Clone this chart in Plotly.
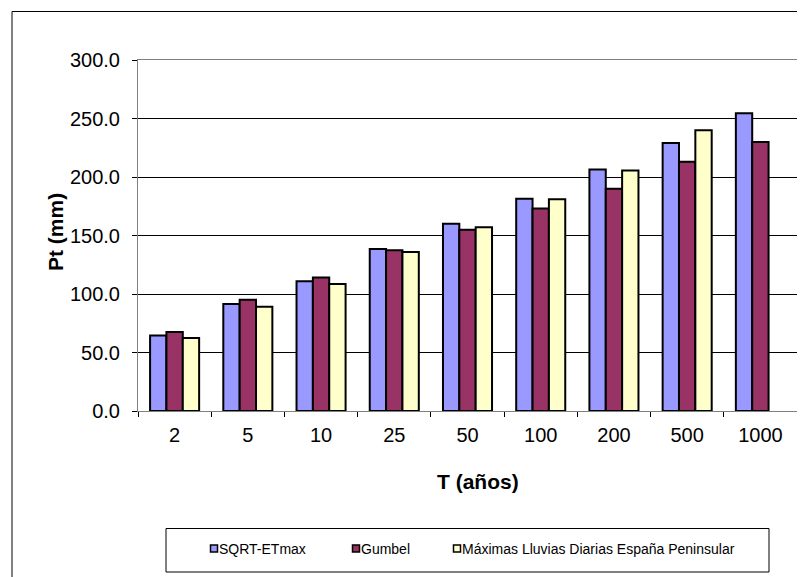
import plotly.graph_objects as go

periods = ["2", "5", "10", "25", "50", "100", "200", "500", "1000"]
sqrt_etmax = [64.5, 91.5, 111.0, 138.5, 160.0, 181.5, 206.5, 229.0, 254.5]
gumbel = [67.5, 95.0, 114.0, 137.5, 155.0, 173.0, 190.0, 213.0, 230.0]
maximas = [62.5, 89.0, 108.5, 136.0, 157.0, 181.0, 205.5, 240.0, None]

series_names = ["SQRT-ETmax", "Gumbel", "Máximas Lluvias Diarias España Peninsular"]
series_colors = ["#9999FF", "#993366", "#FFFFCC"]

FONT = "Arial, 'Liberation Sans', sans-serif"

# the page body has an 8px margin, so the figure starts at (8, 8) on screen
OFF = 8
W, H = 805 - OFF, 577 - OFF
# plot area in screen pixels
L, R, T, B = 138, 797, 60, 411
PW, PH = R - L, B - T


def px_x(x):
    return (x - L) / PW


def px_y(y):
    return (B - y) / PH


fig = go.Figure()
for name, vals, col in zip(series_names, [sqrt_etmax, gumbel, maximas], series_colors):
    fig.add_trace(go.Bar(
        x=periods, y=vals, name=name,
        marker=dict(color=col, line=dict(color="black", width=2)),
    ))

shapes = [
    # outer chart border
    dict(type="rect", xref="paper", yref="paper",
         x0=px_x(12), x1=px_x(812), y0=px_y(590), y1=px_y(11.5),
         line=dict(color="black", width=1), fillcolor="rgba(0,0,0,0)", layer="below"),
    # legend box
    dict(type="rect", xref="paper", yref="paper",
         x0=px_x(166), x1=px_x(769), y0=px_y(572), y1=px_y(528.5),
         line=dict(color="black", width=1), fillcolor="white"),
]
annotations = [
    dict(text="<b>T (años)</b>", xref="paper", yref="paper", x=px_x(477.5), y=px_y(481),
         xanchor="center", yanchor="middle",
         showarrow=False, font=dict(size=21, color="black", family=FONT)),
    dict(text="<b>Pt (mm)</b>", xref="paper", yref="paper", x=px_x(55), y=px_y(232),
         xanchor="center", yanchor="middle",
         showarrow=False, textangle=-90, font=dict(size=21, color="black", family=FONT)),
]

text_starts = [220, 362, 463]
for name, col, tx in zip(series_names, series_colors, text_starts):
    cx, cy = tx - 6, 548.5
    shapes.append(dict(type="rect", xref="paper", yref="paper",
                       x0=px_x(cx - 3.5), x1=px_x(cx + 3.5), y0=px_y(cy + 3.5), y1=px_y(cy - 3.5),
                       line=dict(color="black", width=1.5), fillcolor=col))
    annotations.append(dict(text=name, xref="paper", yref="paper", x=px_x(tx - 3), y=px_y(cy),
                            xanchor="left", yanchor="middle", showarrow=False,
                            font=dict(size=14, color="black", family=FONT)))

fig.update_layout(
    width=W, height=H,
    margin=dict(l=L - OFF, r=805 - R, t=T - OFF, b=577 - B),
    paper_bgcolor="white", plot_bgcolor="white",
    barmode="group", bargap=0.33, bargroupgap=0,
    showlegend=False,
    font=dict(family=FONT, color="black"),
    shapes=shapes, annotations=annotations,
)
fig.update_xaxes(
    showline=True, linecolor="#808080", linewidth=1, mirror=True,
    ticks="outside", tickson="boundaries", ticklen=5, tickcolor="black",
    tickfont=dict(size=20, family=FONT), ticklabelstandoff=6,
    showgrid=False,
)
fig.update_yaxes(
    range=[0, 300], dtick=50, tickformat=".1f",
    showline=True, linecolor="#808080", linewidth=1, mirror=True,
    ticks="outside", ticklen=5, tickcolor="black",
    tickfont=dict(size=20, family=FONT), ticklabelstandoff=8,
    showgrid=True, gridcolor="black", gridwidth=1, zeroline=False,
)

fig.write_html("out.html")
